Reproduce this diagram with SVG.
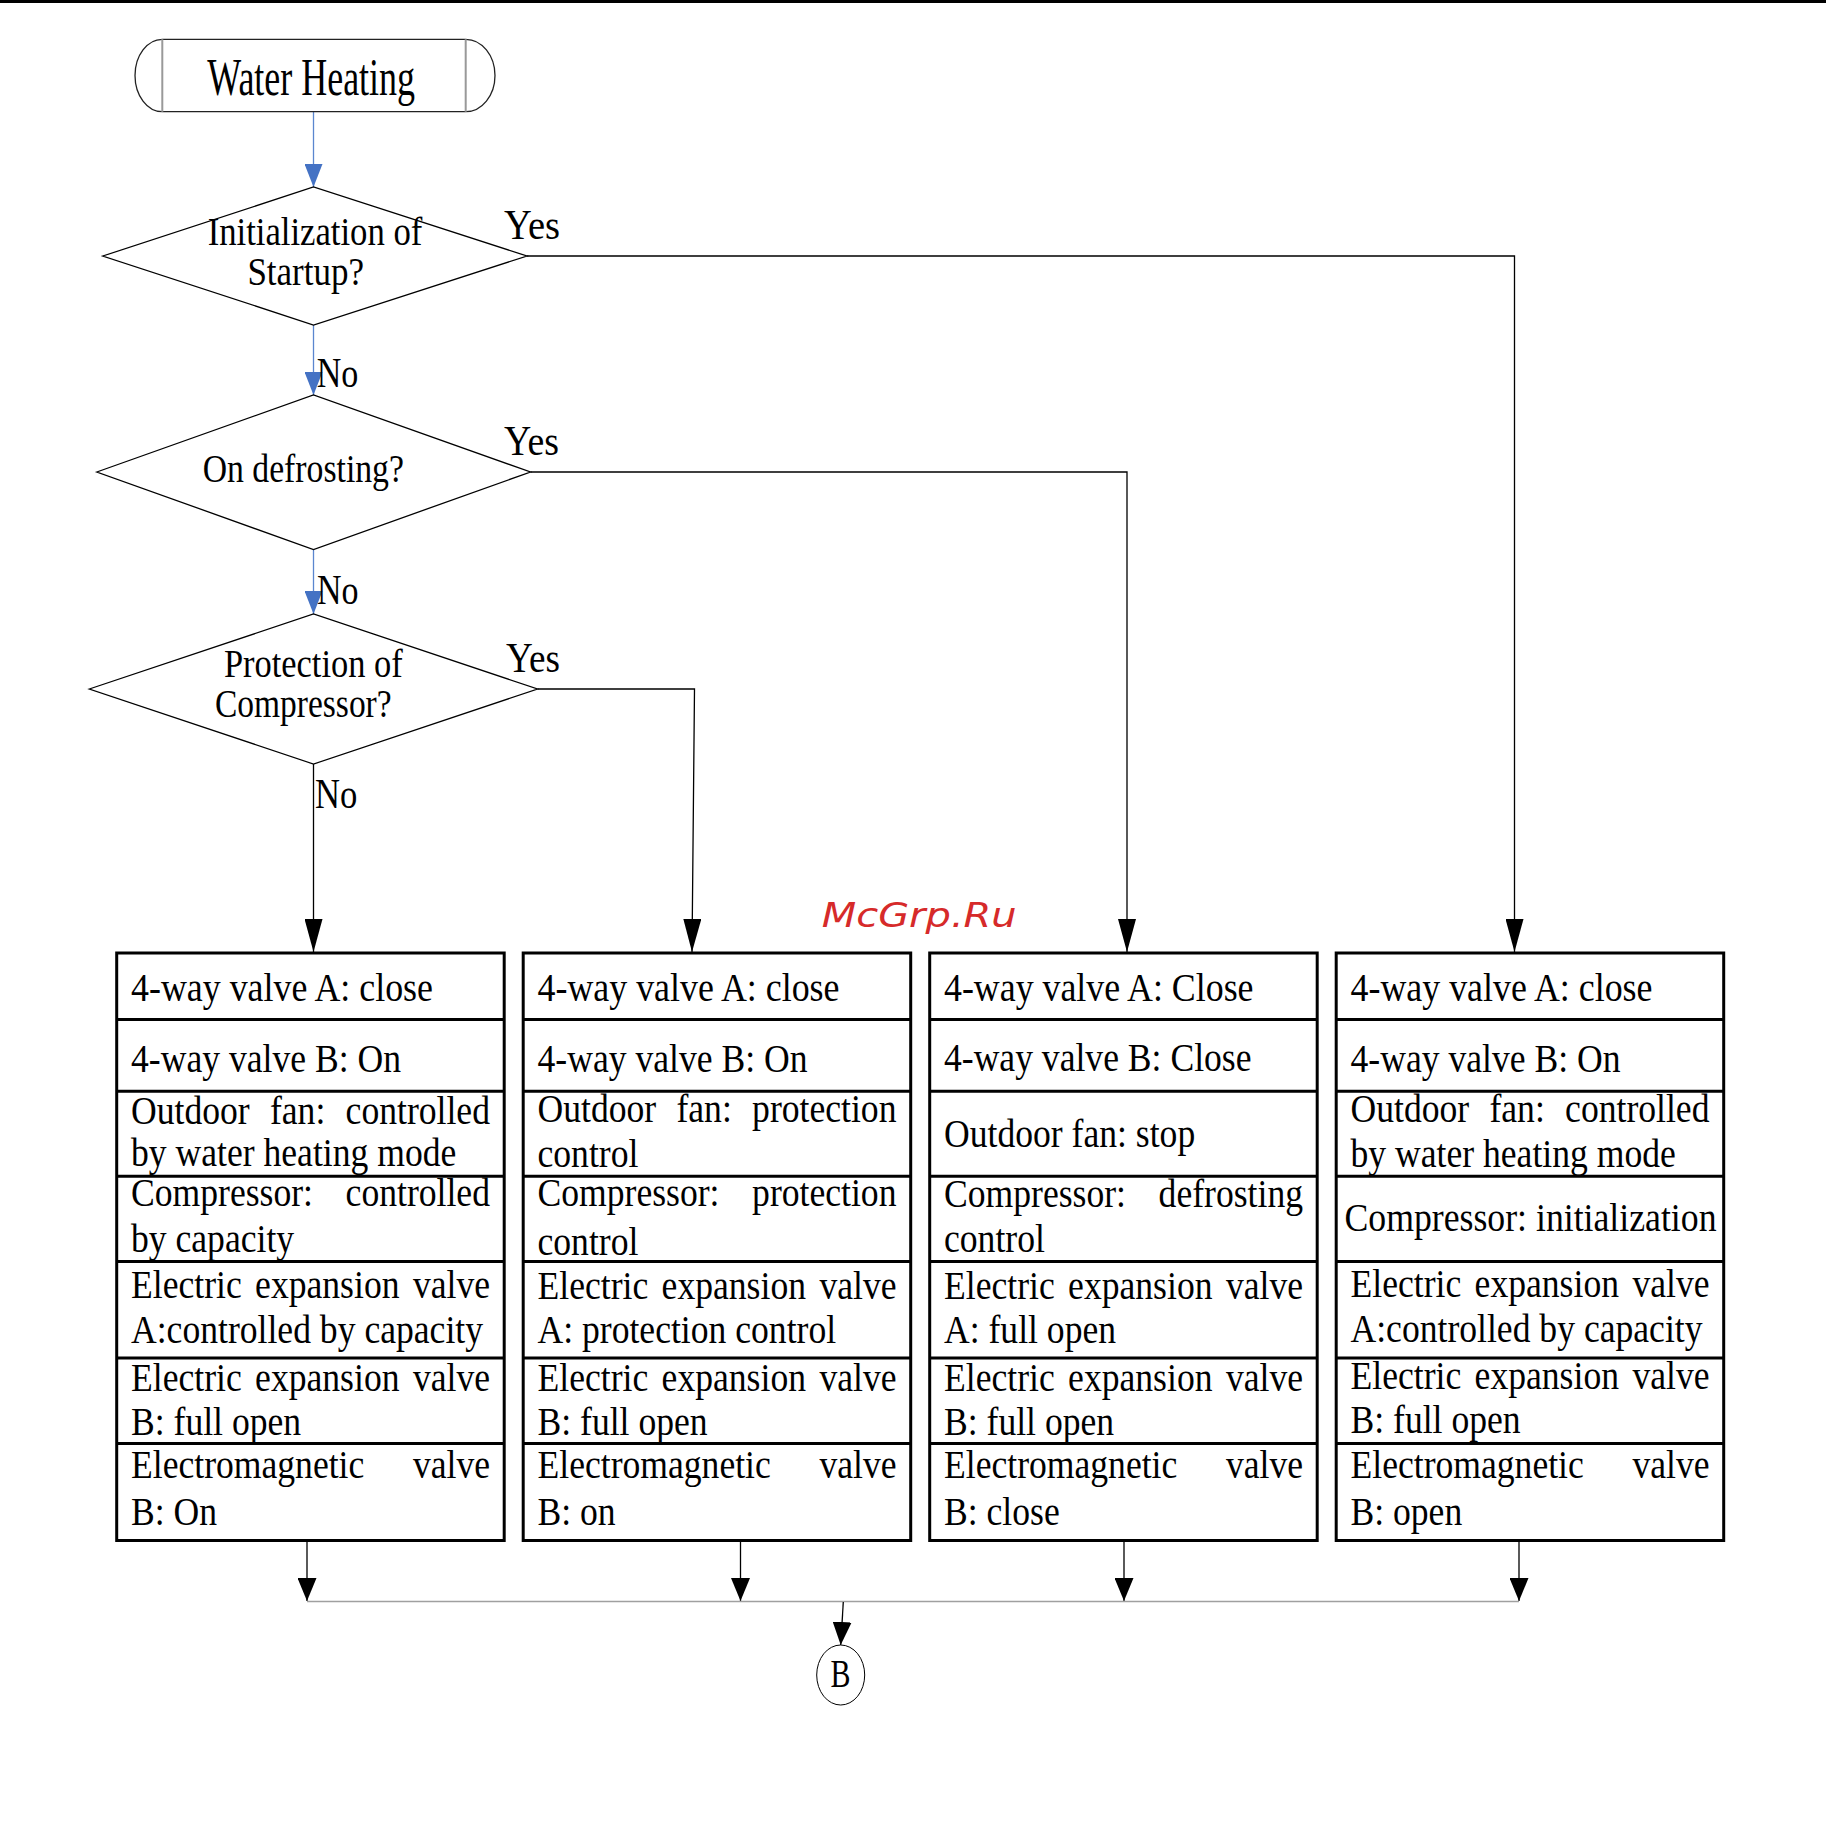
<svg xmlns="http://www.w3.org/2000/svg" width="1826" height="1830" viewBox="0 0 1826 1830">
<style>
.t{font-family:"Liberation Serif","Times New Roman",serif;font-size:41px;fill:#000}
.dt{font-family:"Liberation Serif","Times New Roman",serif;font-size:40px;fill:#000}
.lb{font-family:"Liberation Serif","Times New Roman",serif;font-size:42px;fill:#000}
.bg{fill:#fff;stroke:none}
.frame{fill:none;stroke:#000;stroke-width:3}
.div{stroke:#000;stroke-width:3}
.dia{fill:#fff;stroke:#000;stroke-width:1.3}
.con{fill:none;stroke:#000;stroke-width:1.3}
.blue{fill:none;stroke:#5b86cf;stroke-width:1.3}
.wm{font-family:"DejaVu Sans",sans-serif;font-style:oblique;font-size:33px;fill:#d62a2a}
</style>
<defs>
<marker id="ab" markerUnits="userSpaceOnUse" viewBox="0 0 33 18" refX="33" refY="9" markerWidth="33" markerHeight="18" orient="auto"><path d="M0,0 L33,9 L0,18 Z" fill="#000"/></marker>
<marker id="as" markerUnits="userSpaceOnUse" viewBox="0 0 23 19" refX="23" refY="9.5" markerWidth="23" markerHeight="19" orient="auto"><path d="M0,0 L23,9.5 L0,19 Z" fill="#000"/></marker>
<marker id="abl" markerUnits="userSpaceOnUse" viewBox="0 0 23 18" refX="23" refY="9" markerWidth="23" markerHeight="18" orient="auto"><path d="M0,0 L23,9 L0,18 Z" fill="#4472c4"/></marker>
</defs>
<rect x="0" y="0" width="1826" height="3" fill="#000"/>

<g id="connectors">
<path class="blue" d="M313.5,112 V187" marker-end="url(#abl)"/>
<path class="blue" d="M313.5,325 V395" marker-end="url(#abl)"/>
<path class="blue" d="M313.5,549.5 V614" marker-end="url(#abl)"/>
<path class="con" d="M527,256 H1514.5 V952" marker-end="url(#ab)"/>
<path class="con" d="M530.5,472 H1127 V952" marker-end="url(#ab)"/>
<path class="con" d="M537.5,689 H694.5 L692,952" marker-end="url(#ab)"/>
<path class="con" d="M313.5,764 V952" marker-end="url(#ab)"/>
<path class="con" d="M307,1541.5 V1601" marker-end="url(#as)"/>
<path class="con" d="M740.5,1541.5 V1601" marker-end="url(#as)"/>
<path class="con" d="M1124,1541.5 V1601" marker-end="url(#as)"/>
<path class="con" d="M1519,1541.5 V1601" marker-end="url(#as)"/>
<path d="M307,1601.5 H1519" fill="none" stroke="#a0a0a0" stroke-width="1.6"/>
<path class="con" d="M843.3,1602 L840.7,1645" marker-end="url(#as)"/>
<text class="lb" x="504" y="239" textLength="56" lengthAdjust="spacingAndGlyphs">Yes</text>
<text class="lb" x="504" y="455" textLength="55" lengthAdjust="spacingAndGlyphs">Yes</text>
<text class="lb" x="506" y="671.5" textLength="54" lengthAdjust="spacingAndGlyphs">Yes</text>
<text class="lb" x="316.7" y="386.7" textLength="41.6" lengthAdjust="spacingAndGlyphs">No</text>
<text class="lb" x="317" y="604" textLength="41.5" lengthAdjust="spacingAndGlyphs">No</text>
<text class="lb" x="315" y="808.3" textLength="42.3" lengthAdjust="spacingAndGlyphs">No</text>
</g>

<g id="start">
<path d="M162.3,39.3 H465.7 A29.3,36.2 0 0 1 465.7,111.7 H162.3 A27.3,36.2 0 0 1 162.3,39.3 Z" fill="#fff" stroke="#222" stroke-width="1.3"/>
<path d="M162.3,39.3 V111.7 M465.7,39.3 V111.7" stroke="#999" stroke-width="2"/>
<text class="t" style="font-size:53px" x="311.2" y="95" text-anchor="middle" textLength="207.7" lengthAdjust="spacingAndGlyphs">Water Heating</text>
</g>

<g id="d1">
<polygon class="dia" points="102.7,256 313.5,187 527,256 313.5,325"/>
<text class="dt" x="315" y="245" text-anchor="middle" textLength="214.7" lengthAdjust="spacingAndGlyphs">Initialization of</text>
<text class="dt" x="305.7" y="285" text-anchor="middle" textLength="116.6" lengthAdjust="spacingAndGlyphs">Startup?</text>
</g>
<g id="d2">
<polygon class="dia" points="96.8,472 313.5,395 530.5,472 313.5,549.5"/>
<text class="dt" x="303.3" y="481.7" text-anchor="middle" textLength="201.3" lengthAdjust="spacingAndGlyphs">On defrosting?</text>
</g>
<g id="d3">
<polygon class="dia" points="89.3,689 313.5,614 537.5,689 313.5,764"/>
<text class="dt" x="313.3" y="676.7" text-anchor="middle" textLength="178.7" lengthAdjust="spacingAndGlyphs">Protection of</text>
<text class="dt" x="303.3" y="716.7" text-anchor="middle" textLength="176.7" lengthAdjust="spacingAndGlyphs">Compressor?</text>
</g>

<text class="wm" x="821.7" y="926.7" textLength="195" lengthAdjust="spacingAndGlyphs">McGrp.Ru</text>

<g id="box1">
<rect class="bg" x="116.7" y="953" width="387.5" height="587.5"/>
<text class="t" x="131" y="1000.5" textLength="302" lengthAdjust="spacingAndGlyphs">4-way valve A: close</text>
<text class="t" x="131" y="1072" textLength="270" lengthAdjust="spacingAndGlyphs">4-way valve B: On</text>
<text class="t" x="131" y="1124" textLength="118.7" lengthAdjust="spacingAndGlyphs">Outdoor</text>
<text class="t" x="269.9" y="1124" textLength="55.4" lengthAdjust="spacingAndGlyphs">fan:</text>
<text class="t" x="345.6" y="1124" textLength="144.4" lengthAdjust="spacingAndGlyphs">controlled</text>
<text class="t" x="131" y="1166" textLength="325.3" lengthAdjust="spacingAndGlyphs">by water heating mode</text>
<text class="t" x="131" y="1205.5" textLength="182" lengthAdjust="spacingAndGlyphs">Compressor:</text>
<text class="t" x="345.6" y="1205.5" textLength="144.4" lengthAdjust="spacingAndGlyphs">controlled</text>
<text class="t" x="131" y="1251.5" textLength="163.1" lengthAdjust="spacingAndGlyphs">by capacity</text>
<text class="t" x="131" y="1298" textLength="110.7" lengthAdjust="spacingAndGlyphs">Electric</text>
<text class="t" x="255.1" y="1298" textLength="144.4" lengthAdjust="spacingAndGlyphs">expansion</text>
<text class="t" x="412.9" y="1298" textLength="77.1" lengthAdjust="spacingAndGlyphs">valve</text>
<text class="t" x="131" y="1343" textLength="352" lengthAdjust="spacingAndGlyphs">A:controlled by capacity</text>
<text class="t" x="131" y="1390.5" textLength="110.7" lengthAdjust="spacingAndGlyphs">Electric</text>
<text class="t" x="255.1" y="1390.5" textLength="144.4" lengthAdjust="spacingAndGlyphs">expansion</text>
<text class="t" x="412.9" y="1390.5" textLength="77.1" lengthAdjust="spacingAndGlyphs">valve</text>
<text class="t" x="131" y="1434.5" textLength="170.1" lengthAdjust="spacingAndGlyphs">B: full open</text>
<text class="t" x="131" y="1478" textLength="233.3" lengthAdjust="spacingAndGlyphs">Electromagnetic</text>
<text class="t" x="412.9" y="1478" textLength="77.1" lengthAdjust="spacingAndGlyphs">valve</text>
<text class="t" x="131" y="1525" textLength="86" lengthAdjust="spacingAndGlyphs">B: On</text>
<path class="div" d="M116.7,1019.5 H504.2 M116.7,1091.3 H504.2 M116.7,1176.3 H504.2 M116.7,1261.5 H504.2 M116.7,1358 H504.2 M116.7,1443.4 H504.2"/>
<rect class="frame" x="116.7" y="953" width="387.5" height="587.5"/>
</g>

<g id="box2">
<rect class="bg" x="523.2" y="953" width="387.5" height="587.5"/>
<text class="t" x="537.5" y="1000.5" textLength="302" lengthAdjust="spacingAndGlyphs">4-way valve A: close</text>
<text class="t" x="537.5" y="1072" textLength="270" lengthAdjust="spacingAndGlyphs">4-way valve B: On</text>
<text class="t" x="537.5" y="1122" textLength="118.7" lengthAdjust="spacingAndGlyphs">Outdoor</text>
<text class="t" x="676.4" y="1122" textLength="55.4" lengthAdjust="spacingAndGlyphs">fan:</text>
<text class="t" x="752.1" y="1122" textLength="144.4" lengthAdjust="spacingAndGlyphs">protection</text>
<text class="t" x="537.5" y="1167" textLength="100.9" lengthAdjust="spacingAndGlyphs">control</text>
<text class="t" x="537.5" y="1205.5" textLength="182" lengthAdjust="spacingAndGlyphs">Compressor:</text>
<text class="t" x="752.1" y="1205.5" textLength="144.4" lengthAdjust="spacingAndGlyphs">protection</text>
<text class="t" x="537.5" y="1255" textLength="100.9" lengthAdjust="spacingAndGlyphs">control</text>
<text class="t" x="537.5" y="1298.5" textLength="110.7" lengthAdjust="spacingAndGlyphs">Electric</text>
<text class="t" x="661.6" y="1298.5" textLength="144.4" lengthAdjust="spacingAndGlyphs">expansion</text>
<text class="t" x="819.4" y="1298.5" textLength="77.1" lengthAdjust="spacingAndGlyphs">valve</text>
<text class="t" x="537.5" y="1343" textLength="298.6" lengthAdjust="spacingAndGlyphs">A: protection control</text>
<text class="t" x="537.5" y="1390.5" textLength="110.7" lengthAdjust="spacingAndGlyphs">Electric</text>
<text class="t" x="661.6" y="1390.5" textLength="144.4" lengthAdjust="spacingAndGlyphs">expansion</text>
<text class="t" x="819.4" y="1390.5" textLength="77.1" lengthAdjust="spacingAndGlyphs">valve</text>
<text class="t" x="537.5" y="1434.5" textLength="170.1" lengthAdjust="spacingAndGlyphs">B: full open</text>
<text class="t" x="537.5" y="1478" textLength="233.3" lengthAdjust="spacingAndGlyphs">Electromagnetic</text>
<text class="t" x="819.4" y="1478" textLength="77.1" lengthAdjust="spacingAndGlyphs">valve</text>
<text class="t" x="537.5" y="1525" textLength="78.1" lengthAdjust="spacingAndGlyphs">B: on</text>
<path class="div" d="M523.2,1019.5 H910.7 M523.2,1091.3 H910.7 M523.2,1176.3 H910.7 M523.2,1261.5 H910.7 M523.2,1358 H910.7 M523.2,1443.4 H910.7"/>
<rect class="frame" x="523.2" y="953" width="387.5" height="587.5"/>
</g>

<g id="box3">
<rect class="bg" x="929.7" y="953" width="387.5" height="587.5"/>
<text class="t" x="944" y="1000.5" textLength="309.5" lengthAdjust="spacingAndGlyphs">4-way valve A: Close</text>
<text class="t" x="944" y="1070.5" textLength="307.5" lengthAdjust="spacingAndGlyphs">4-way valve B: Close</text>
<text class="t" x="944" y="1146.7" textLength="251.2" lengthAdjust="spacingAndGlyphs">Outdoor fan: stop</text>
<text class="t" x="944" y="1207" textLength="182" lengthAdjust="spacingAndGlyphs">Compressor:</text>
<text class="t" x="1158.6" y="1207" textLength="144.4" lengthAdjust="spacingAndGlyphs">defrosting</text>
<text class="t" x="944" y="1252" textLength="100.9" lengthAdjust="spacingAndGlyphs">control</text>
<text class="t" x="944" y="1298.5" textLength="110.7" lengthAdjust="spacingAndGlyphs">Electric</text>
<text class="t" x="1068.1" y="1298.5" textLength="144.4" lengthAdjust="spacingAndGlyphs">expansion</text>
<text class="t" x="1225.9" y="1298.5" textLength="77.1" lengthAdjust="spacingAndGlyphs">valve</text>
<text class="t" x="944" y="1343" textLength="172.1" lengthAdjust="spacingAndGlyphs">A: full open</text>
<text class="t" x="944" y="1390.5" textLength="110.7" lengthAdjust="spacingAndGlyphs">Electric</text>
<text class="t" x="1068.1" y="1390.5" textLength="144.4" lengthAdjust="spacingAndGlyphs">expansion</text>
<text class="t" x="1225.9" y="1390.5" textLength="77.1" lengthAdjust="spacingAndGlyphs">valve</text>
<text class="t" x="944" y="1434.5" textLength="170.1" lengthAdjust="spacingAndGlyphs">B: full open</text>
<text class="t" x="944" y="1478" textLength="233.3" lengthAdjust="spacingAndGlyphs">Electromagnetic</text>
<text class="t" x="1225.9" y="1478" textLength="77.1" lengthAdjust="spacingAndGlyphs">valve</text>
<text class="t" x="944" y="1525" textLength="115.7" lengthAdjust="spacingAndGlyphs">B: close</text>
<path class="div" d="M929.7,1019.5 H1317.2 M929.7,1091.3 H1317.2 M929.7,1176.3 H1317.2 M929.7,1261.5 H1317.2 M929.7,1358 H1317.2 M929.7,1443.4 H1317.2"/>
<rect class="frame" x="929.7" y="953" width="387.5" height="587.5"/>
</g>

<g id="box4">
<rect class="bg" x="1336.2" y="953" width="387.5" height="587.5"/>
<text class="t" x="1350.5" y="1001" textLength="302" lengthAdjust="spacingAndGlyphs">4-way valve A: close</text>
<text class="t" x="1350.5" y="1072" textLength="270" lengthAdjust="spacingAndGlyphs">4-way valve B: On</text>
<text class="t" x="1350.5" y="1122" textLength="118.7" lengthAdjust="spacingAndGlyphs">Outdoor</text>
<text class="t" x="1489.4" y="1122" textLength="55.4" lengthAdjust="spacingAndGlyphs">fan:</text>
<text class="t" x="1565.1" y="1122" textLength="144.4" lengthAdjust="spacingAndGlyphs">controlled</text>
<text class="t" x="1350.5" y="1167" textLength="325.3" lengthAdjust="spacingAndGlyphs">by water heating mode</text>
<text class="t" x="1530.5" y="1231" text-anchor="middle" textLength="372" lengthAdjust="spacingAndGlyphs">Compressor: initialization</text>
<text class="t" x="1350.5" y="1297" textLength="110.7" lengthAdjust="spacingAndGlyphs">Electric</text>
<text class="t" x="1474.6" y="1297" textLength="144.4" lengthAdjust="spacingAndGlyphs">expansion</text>
<text class="t" x="1632.4" y="1297" textLength="77.1" lengthAdjust="spacingAndGlyphs">valve</text>
<text class="t" x="1350.5" y="1342" textLength="352" lengthAdjust="spacingAndGlyphs">A:controlled by capacity</text>
<text class="t" x="1350.5" y="1389" textLength="110.7" lengthAdjust="spacingAndGlyphs">Electric</text>
<text class="t" x="1474.6" y="1389" textLength="144.4" lengthAdjust="spacingAndGlyphs">expansion</text>
<text class="t" x="1632.4" y="1389" textLength="77.1" lengthAdjust="spacingAndGlyphs">valve</text>
<text class="t" x="1350.5" y="1433" textLength="170.1" lengthAdjust="spacingAndGlyphs">B: full open</text>
<text class="t" x="1350.5" y="1478" textLength="233.3" lengthAdjust="spacingAndGlyphs">Electromagnetic</text>
<text class="t" x="1632.4" y="1478" textLength="77.1" lengthAdjust="spacingAndGlyphs">valve</text>
<text class="t" x="1350.5" y="1525" textLength="111.7" lengthAdjust="spacingAndGlyphs">B: open</text>
<path class="div" d="M1336.2,1019.5 H1723.7 M1336.2,1091.3 H1723.7 M1336.2,1176.3 H1723.7 M1336.2,1261.5 H1723.7 M1336.2,1358 H1723.7 M1336.2,1443.4 H1723.7"/>
<rect class="frame" x="1336.2" y="953" width="387.5" height="587.5"/>
</g>

<g id="connB">
<ellipse cx="840.7" cy="1675" rx="24" ry="30" fill="#fff" stroke="#000" stroke-width="1"/>
<text class="t" x="840.5" y="1686.7" text-anchor="middle" textLength="20" lengthAdjust="spacingAndGlyphs">B</text>
</g>
</svg>
